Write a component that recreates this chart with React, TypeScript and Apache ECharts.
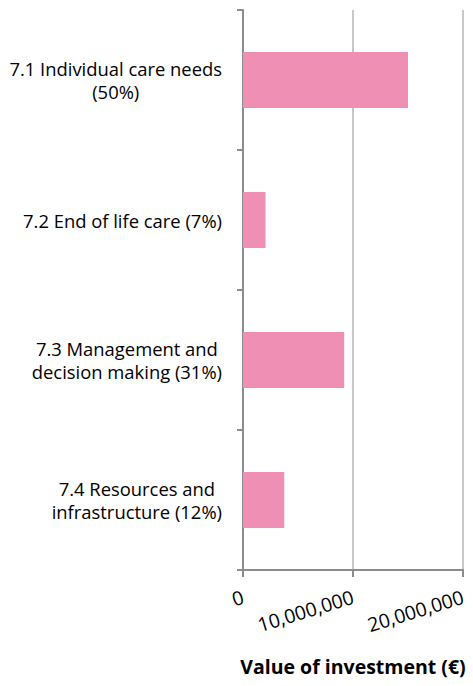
import React, { useEffect, useRef } from "react";
import * as echarts from "echarts";

const categories = [
  "7.1 Individual care needs\n(50%)",
  "7.2 End of life care (7%)",
  "7.3 Management and\ndecision making (31%)",
  "7.4 Resources and\ninfrastructure (12%)",
];
const values = [15000000, 2050000, 9200000, 3750000];
const xTicks = [0, 10000000, 20000000];
const axisTitle = "Value of investment (€)";

const FONT = "'Open Sans', sans-serif";
const FS = 18.4;

function measure(text: string): number {
  const c = document.createElement("canvas").getContext("2d");
  if (!c) return text.length * 8;
  c.font = `${FS}px 'Open Sans'`;
  return c.measureText(text).width;
}

export default function App() {
  const ref = useRef<HTMLDivElement>(null);
  useEffect(() => {
    if (!ref.current) return;
    const chart = echarts.init(ref.current, undefined, { renderer: "svg" });
    const rich: Record<string, any> = {};
    categories.forEach((c, i) => {
      const w = Math.max(...c.split("\n").map(measure)) + 2;
      rich["c" + i] = {
        width: w,
        align: "center",
        fontFamily: FONT,
        fontSize: FS,
        color: "#000",
        lineHeight: 23,
      };
    });
    chart.setOption({
      animation: false,
      grid: { left: 243, right: 10, top: 10, bottom: 116, containLabel: false },
      xAxis: {
        type: "value",
        min: xTicks[0],
        max: xTicks[xTicks.length - 1],
        interval: xTicks[1] - xTicks[0],
        name: axisTitle,
        nameLocation: "middle",
        nameGap: 86,
        nameTextStyle: {
          fontFamily: FONT,
          fontSize: 19.5,
          fontWeight: "bold",
          color: "#000",
        },
        axisLine: { show: true, lineStyle: { color: "#8c8c8c", width: 2 } },
        axisTick: { show: true, length: 7, lineStyle: { color: "#8c8c8c", width: 2 } },
        splitLine: { show: true, lineStyle: { color: "#c8c8c8", width: 2 } },
        axisLabel: {
          rotate: 17,
          margin: 26,
          fontFamily: FONT,
          fontSize: 19.5,
          color: "#000",
          formatter: (v: number) => v.toLocaleString("en-US"),
        },
      },
      yAxis: {
        type: "category",
        inverse: true,
        data: categories,
        axisLine: { show: true, lineStyle: { color: "#8c8c8c", width: 2 } },
        axisTick: { show: true, length: 6, lineStyle: { color: "#8c8c8c", width: 2 } },
        axisLabel: {
          margin: 20,
          formatter: (v: string, i: number) =>
            v
              .split("\n")
              .map((l) => `{c${i}|${l}}`)
              .join("\n"),
          rich,
        },
      },
      series: [
        {
          type: "bar",
          data: values,
          barWidth: "40%",
          itemStyle: { color: "#F08FB4" },
        },
      ],
    });
    return () => chart.dispose();
  }, []);
  return (
    <div
      ref={ref}
      style={{ position: "absolute", left: 0, top: 0, width: 473, height: 686 }}
    />
  );
}
